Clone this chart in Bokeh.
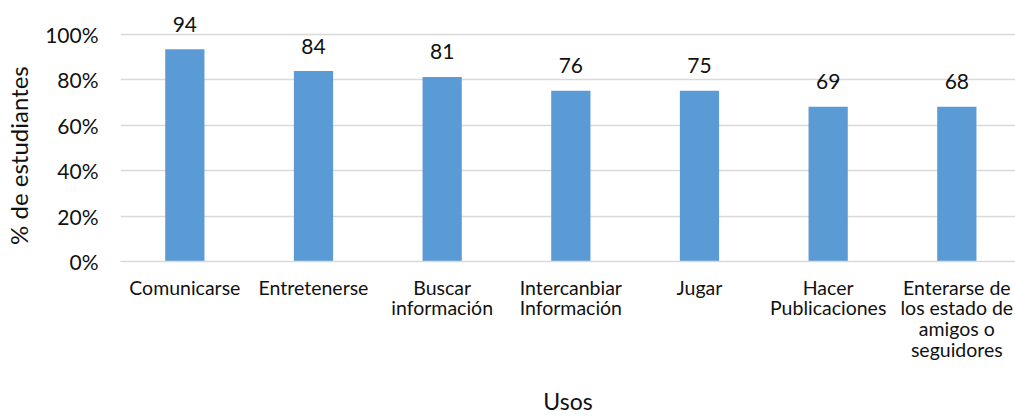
from bokeh.plotting import figure
from bokeh.models import FixedTicker, NumeralTickFormatter, Range1d, ColumnDataSource
from bokeh.core.properties import value
from bokeh.embed import file_html
from bokeh.resources import INLINE

categories = ["Comunicarse", "Entretenerse", "Buscar\ninformación", "Intercanbiar\nInformación",
              "Jugar", "Hacer\nPublicaciones", "Enterarse de\nlos estado de\namigos o\nseguidores"]
bar_values = [0.934, 0.838, 0.812, 0.751, 0.751, 0.681, 0.681]
data_labels = ["94", "84", "81", "76", "75", "69", "68"]
y_ticks = [0, 0.2, 0.4, 0.6, 0.8, 1.0]
y_title = "% de estudiantes"
x_title = "Usos"

FONT = "Lato"
TXT = "#111111"

xs = list(range(len(categories)))
src = ColumnDataSource(dict(x=xs, top=bar_values, lab=data_labels))

p = figure(width=1015, height=417, output_backend="svg", toolbar_location=None,
           x_range=Range1d(-0.5, 6.456), y_range=Range1d(0, 1.1485),
           min_border_left=120, min_border_right=0, min_border_top=0, min_border_bottom=154)
p.outline_line_color = None
p.background_fill_color = "white"

p.vbar(x="x", top="top", bottom=0, width=0.305, source=src, fill_color="#5b9bd5", line_color=None)
p.text(x="x", y="top", text="lab", source=src, text_align="center", text_baseline="alphabetic",
       y_offset=-25, text_font=value(FONT), text_font_size="21px", text_color=TXT)

p.xgrid.grid_line_color = None
p.ygrid.grid_line_color = "#d9d9d9"
p.ygrid.grid_line_width = 1.5

p.yaxis.ticker = FixedTicker(ticks=y_ticks)
p.yaxis.formatter = NumeralTickFormatter(format="0%")
p.yaxis.axis_line_color = None
p.yaxis.major_tick_line_color = None
p.yaxis.minor_tick_line_color = None
p.yaxis.major_tick_out = 0
p.yaxis.major_label_standoff = 22
p.yaxis.major_label_text_font = FONT
p.yaxis.major_label_text_font_size = "21px"
p.yaxis.major_label_text_color = TXT
# trailing no-break spaces shift the centred title toward the 0-100% span
p.yaxis.axis_label = y_title + "\u00a0" * 8
p.yaxis.axis_label_text_font = FONT
p.yaxis.axis_label_text_font_size = "24px"
p.yaxis.axis_label_text_font_style = "normal"
p.yaxis.axis_label_text_color = TXT
p.yaxis.axis_label_standoff = 9

p.xaxis.ticker = FixedTicker(ticks=xs)
p.xaxis.major_label_overrides = {i: c for i, c in zip(xs, categories)}
p.xaxis.axis_line_color = "#d9d9d9"
p.xaxis.axis_line_width = 1.5
p.xaxis.major_tick_line_color = None
p.xaxis.minor_tick_line_color = None
p.xaxis.major_tick_out = 0
p.xaxis.major_label_standoff = 14
p.xaxis.major_label_text_font = FONT
p.xaxis.major_label_text_font_size = "19.5px"
p.xaxis.major_label_text_color = TXT
p.xaxis.major_label_text_line_height = 0.9
p.xaxis.axis_label = x_title
p.xaxis.axis_label_text_font = FONT
p.xaxis.axis_label_text_font_size = "23px"
p.xaxis.axis_label_text_font_style = "normal"
p.xaxis.axis_label_text_color = TXT
p.xaxis.axis_label_standoff = 23

open("out.html", "w").write(file_html(p, INLINE))
